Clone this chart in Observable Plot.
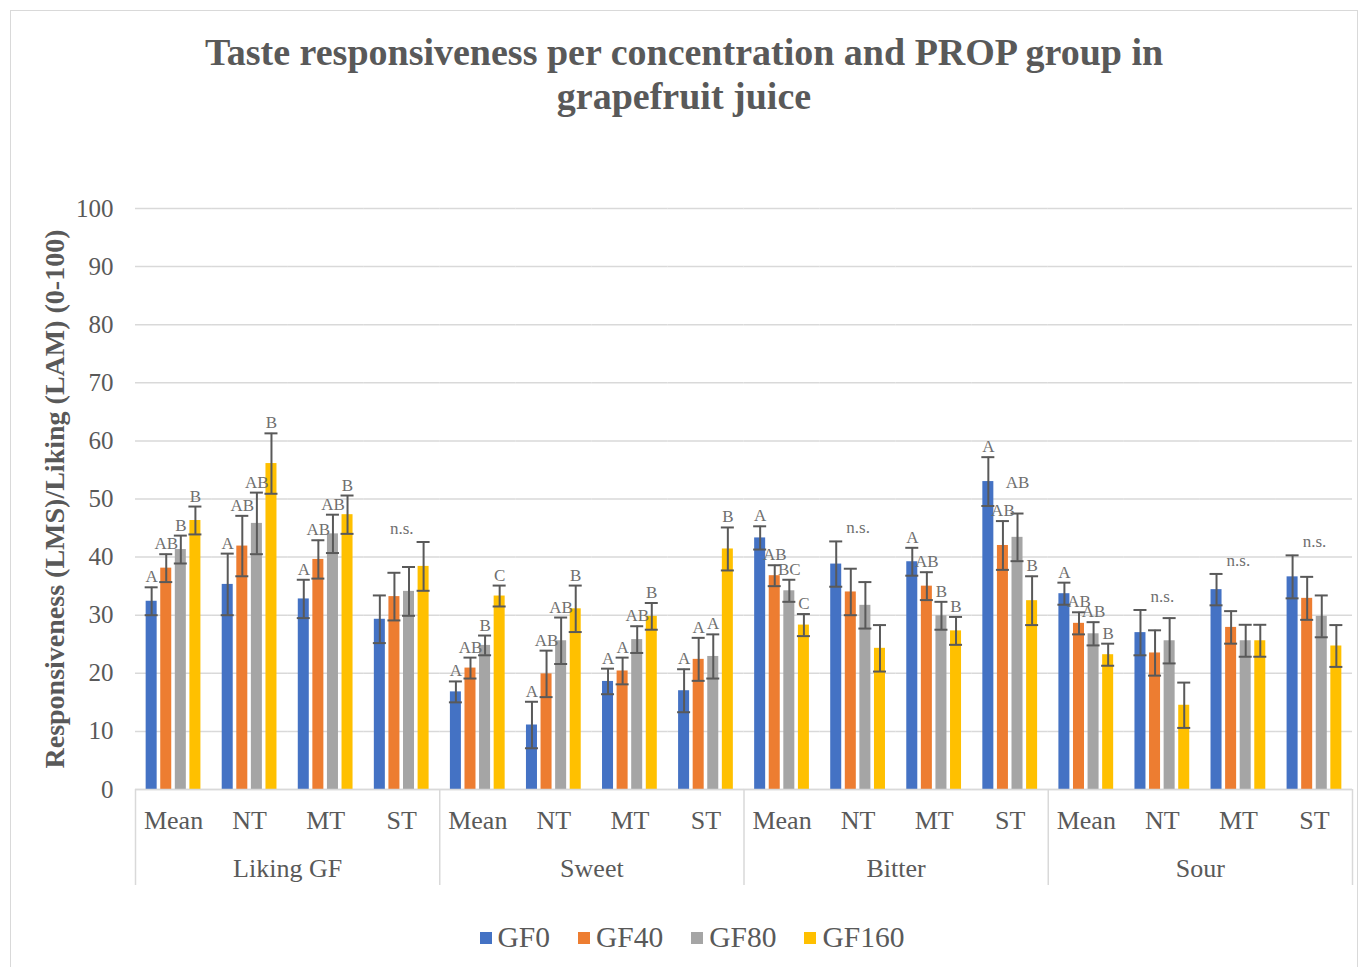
<!DOCTYPE html>
<html>
<head>
<meta charset="utf-8">
<script src="https://cdn.jsdelivr.net/npm/d3@7"></script>
<script src="https://cdn.jsdelivr.net/npm/@observablehq/plot@0.6"></script>
<style>
  body { margin: 0; background: #fff; font-family: "Liberation Serif", "Times New Roman", serif; color: #595959; }
  #frame { position: absolute; left: 10px; top: 10px; width: 1348px; height: 990px; border: 1.5px solid #d9d9d9; box-sizing: border-box; }
  #title { position: absolute; left: 10px; width: 1348px; top: 30px; text-align: center; font-weight: bold; font-size: 38px; line-height: 44px; color: #595959; }
  #chart { position: absolute; left: 0; top: 180px; }
  #legend { position: absolute; left: 18px; width: 1348px; top: 921px; display: flex; justify-content: center; align-items: center; font-size: 29.5px; color: #595959; }
  .item { display: flex; align-items: center; margin: 0 14px; }
  .sw { width: 12px; height: 12px; margin-right: 6px; }
</style>
</head>
<body>
<div id="frame"></div>
<div id="title">Taste responsiveness per concentration and PROP group in<br>grapefruit juice</div>
<div id="chart"></div>
<div id="legend"></div>
<script>
// ---- data ----
const groups = ["Liking GF", "Sweet", "Bitter", "Sour"];
const subs = ["Mean", "NT", "MT", "ST"];
const series = ["GF0", "GF40", "GF80", "GF160"];
const colors = ["#4472C4", "#ED7D31", "#A5A5A5", "#FFC000"];

// means per series, 16 categories (group x sub)
const gf0 = [32.4, 35.3, 32.8, 29.3, 16.8, 11.1, 18.6, 17.0, 43.3, 38.8, 39.2, 53.0, 33.7, 27.0, 34.4, 36.6];
const gf40 = [38.1, 41.9, 39.6, 33.2, 20.9, 19.9, 20.4, 22.4, 36.8, 34.0, 35.0, 42.0, 28.6, 23.5, 27.9, 32.9];
const gf80 = [41.3, 45.8, 44.0, 34.1, 24.8, 25.6, 25.8, 22.9, 34.2, 31.7, 29.9, 43.4, 26.8, 25.6, 25.6, 29.8];
const gf160 = [46.3, 56.1, 47.3, 38.4, 33.3, 31.1, 29.8, 41.4, 28.3, 24.3, 27.3, 32.5, 23.2, 14.5, 25.6, 24.7];

// error (half-length of error bars)
const gf0Err = [2.4, 5.3, 3.3, 4.1, 1.8, 4.0, 2.2, 3.7, 2.0, 3.9, 2.4, 4.2, 1.9, 3.9, 2.7, 3.7];
const gf40Err = [2.4, 5.2, 3.3, 4.1, 1.8, 4.0, 2.3, 3.7, 1.8, 4.0, 2.4, 4.2, 1.9, 3.9, 2.8, 3.7];
const gf80Err = [2.4, 5.3, 3.3, 4.2, 1.7, 4.0, 2.3, 3.8, 1.9, 4.0, 2.4, 4.1, 2.0, 3.9, 2.75, 3.6];
const gf160Err = [2.4, 5.2, 3.3, 4.2, 1.8, 4.0, 2.3, 3.7, 1.9, 4.0, 2.4, 4.2, 1.9, 3.9, 2.75, 3.6];

// significance letters
const gf0Lab = ["A", "A", "A", "", "A", "A", "A", "A", "A", "", "A", "A", "A", "", "", ""];
const gf40Lab = ["AB", "AB", "AB", "", "AB", "AB", "A", "A", "AB", "", "AB", "AB", "AB", "", "", ""];
const gf80Lab = ["B", "AB", "AB", "", "B", "AB", "AB", "A", "BC", "", "B", "AB", "AB", "", "", ""];
const gf160Lab = ["B", "B", "B", "", "C", "B", "B", "B", "C", "", "B", "B", "B", "", "", ""];
const catNote = ["", "", "", "n.s.", "", "", "", "", "", "n.s.", "", "", "", "n.s.", "n.s.", "n.s."];

const yTitle = "Responsiveness (LMS)/Liking (LAM) (0-100)";
const yTicks = [0, 10, 20, 30, 40, 50, 60, 70, 80, 90, 100];

// ---- build table ----
const keys = groups.flatMap(g => subs.map(s => g + "|" + s));
const means = [gf0, gf40, gf80, gf160];
const errs = [gf0Err, gf40Err, gf80Err, gf160Err];
const labs = [gf0Lab, gf40Lab, gf80Lab, gf160Lab];
const rows = [];
keys.forEach((k, i) => series.forEach((s, j) => {
  const top = means[j][i] + errs[j][i];
  // raise a two-letter label that would collide with its left neighbour's two-letter label
  let lift = 0;
  if (j > 0 && labs[j][i].length > 1 && labs[j - 1][i].length > 1) {
    const diff = top - (means[j - 1][i] + errs[j - 1][i]);
    if (diff > -1.5 && diff < 2) lift = 3.5;
  }
  rows.push({key: k, series: s, value: means[j][i], err: errs[j][i], label: labs[j][i], labelY: top + lift});
}));
const notes = keys.map((k, i) => ({key: k, note: catNote[i], top: d3.max(series, (s, j) => means[j][i] + errs[j][i])})).filter(d => d.note);

// ---- layout ----
const W = 1360, H = 720, ML = 135, MR = 8, MT = 28, MB = 111;
const fxStep = (W - ML - MR) / keys.length;
const axisGray = "#d9d9d9";

const chart = Plot.plot({
  width: W, height: H,
  marginLeft: ML, marginRight: MR, marginTop: MT, marginBottom: MB,
  style: {fontFamily: "'Liberation Serif', 'Times New Roman', serif", color: "#595959", background: "transparent"},
  fx: {domain: keys, padding: 0, round: false},
  x: {domain: series, paddingInner: 0.245, paddingOuter: 0.73, round: false, axis: null},
  y: {domain: [0, 100]},
  color: {domain: series, range: colors},
  marks: [
    Plot.gridY(yTicks, {stroke: axisGray, strokeOpacity: 1, strokeWidth: 1.5}),
    Plot.axisY(yTicks, {tickSize: 0, tickPadding: 22, fontSize: 25, label: null}),
    Plot.axisFx({anchor: "bottom", tickSize: 0, tickPadding: 21, fontSize: 26, label: null, tickFormat: k => k.split("|")[1]}),
    Plot.barY(rows, {fx: "key", x: "series", y: "value", fill: "series"}),
    Plot.ruleY([0], {stroke: axisGray, strokeWidth: 1.5}),
    Plot.ruleX(rows, {fx: "key", x: "series", y1: d => d.value - d.err, y2: d => d.value + d.err, stroke: "#595959", strokeWidth: 2}),
    Plot.tickY(rows, {fx: "key", x: "series", y: d => d.value + d.err, stroke: "#595959", strokeWidth: 2, insetLeft: -1, insetRight: -1}),
    Plot.tickY(rows, {fx: "key", x: "series", y: d => d.value - d.err, stroke: "#595959", strokeWidth: 2, insetLeft: -1, insetRight: -1}),
    Plot.text(rows.filter(d => d.label), {fx: "key", x: "series", y: "labelY", text: "label", lineAnchor: "bottom", dy: -5, fontSize: 17, fill: "#6f6f6f"}),
    Plot.text(notes, {fx: "key", y: "top", text: "note", lineAnchor: "bottom", dy: -8, fontSize: 17, fill: "#6f6f6f"}),
    // hierarchical axis: separators and group labels
    Plot.ruleX(groups, {fx: g => g + "|Mean", x: null, y1: 0, y2: 0, dx: -fxStep / 2, insetBottom: -96, stroke: axisGray, strokeWidth: 1.5}),
    Plot.ruleX([groups[groups.length - 1]], {fx: g => g + "|ST", x: null, y1: 0, y2: 0, dx: fxStep / 2, insetBottom: -96, stroke: axisGray, strokeWidth: 1.5}),
    Plot.text(groups, {fx: g => g + "|NT", text: d => d, frameAnchor: "bottom-right", textAnchor: "middle", lineAnchor: "middle", dy: 79, fontSize: 26}),
    Plot.text([yTitle], {fx: () => keys[0], text: d => d, frameAnchor: "left", textAnchor: "middle", rotate: -90, dx: -80, fontSize: 28, fontWeight: "bold", lineAnchor: "middle"})
  ]
});
document.getElementById("chart").appendChild(chart);

// legend
const leg = document.getElementById("legend");
series.forEach((s, i) => {
  const it = document.createElement("div");
  it.className = "item";
  it.innerHTML = `<span class="sw" style="background:${colors[i]}"></span><span>${s}</span>`;
  leg.appendChild(it);
});
</script>
</body>
</html>
